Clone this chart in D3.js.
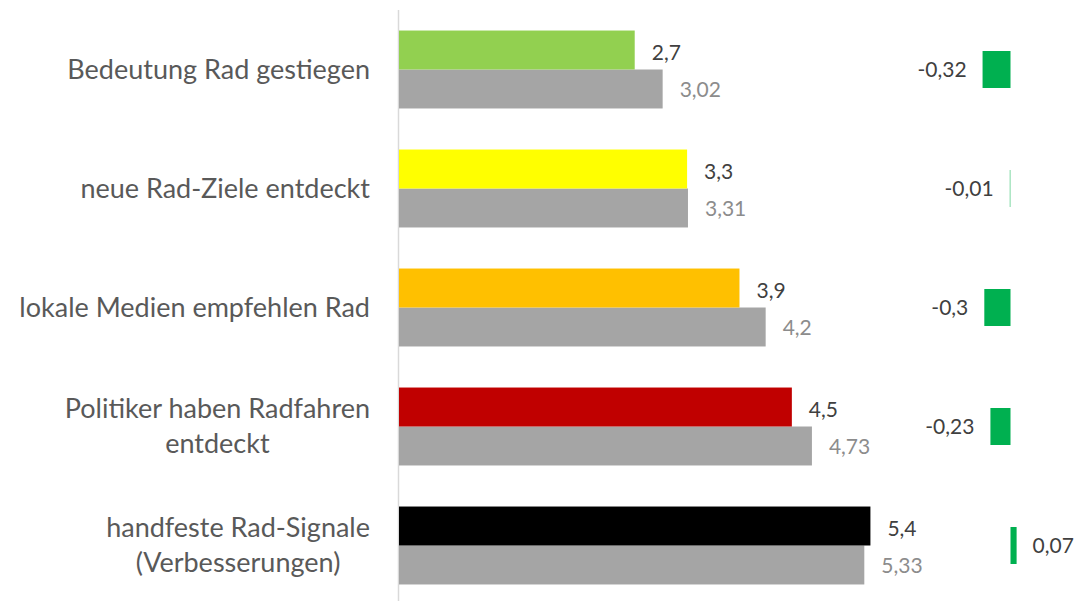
<!DOCTYPE html>
<html>
<head>
<meta charset="utf-8">
<script src="https://cdn.jsdelivr.net/npm/d3@7"></script>
<style>
  body { margin: 0; background: #fff; }
  text { font-family: Lato, "Open Sans", sans-serif; }
</style>
</head>
<body>
<div id="chart"></div>
<script>
// chart values
const categories = ["Bedeutung Rad gestiegen", "neue Rad-Ziele entdeckt", "lokale Medien empfehlen Rad",
	"Politiker haben Radfahren\nentdeckt", "handfeste Rad-Signale\n(Verbesserungen)"];
const current = [2.7, 3.3, 3.9, 4.5, 5.4];
const previous = [3.02, 3.31, 4.2, 4.73, 5.33];
const diffs = [-0.32, -0.01, -0.3, -0.23, 0.07];
const barColors = ["#92D050", "#FFFF00", "#FFC000", "#C00000", "#000000"];

const width = 1083, height = 601;
const fmt = v => String(v).replace(".", ",");

let svg = d3.select("#chart").append("svg")
	.attr("width", width)
	.attr("height", height);

let y = d3.scaleBand().domain(categories).range([10, 605]).paddingInner(0.345).paddingOuter(0.1725);
let ySub = d3.scaleBand().domain(["cur", "prev"]).range([0, y.bandwidth()]);
let x = d3.scaleLinear().domain([0, 6]).range([399, 399 + 6 * 87.3]);
let xd = d3.scaleLinear().domain([0, 1]).range([1010.5, 1010.5 + 87.3]);

// axis line
svg.append("line")
	.attr("x1", x(0) - 0.5).attr("x2", x(0) - 0.5)
	.attr("y1", 10).attr("y2", height)
	.attr("stroke", "#D9D9D9").attr("stroke-width", 1.5);

// bars of previous year (grey)
svg.selectAll("rect.prev").data(previous).enter().append("rect")
	.attr("class", "prev")
	.attr("x", x(0))
	.attr("y", (d, i) => y(categories[i]) + ySub("prev"))
	.attr("width", d => x(d) - x(0))
	.attr("height", ySub.bandwidth())
	.attr("fill", "#A5A5A5");

// bars of current year (coloured)
svg.selectAll("rect.cur").data(current).enter().append("rect")
	.attr("class", "cur")
	.attr("x", x(0))
	.attr("y", (d, i) => y(categories[i]) + ySub("cur"))
	.attr("width", d => x(d) - x(0))
	.attr("height", ySub.bandwidth())
	.attr("fill", (d, i) => barColors[i]);

// value labels
svg.selectAll("text.curLabel").data(current).enter().append("text")
	.attr("x", d => x(d) + 17)
	.attr("y", (d, i) => y(categories[i]) + ySub("cur") + ySub.bandwidth() / 2 + 3)
	.attr("dy", "0.35em")
	.style("font-size", "21px")
	.style("fill", "#404040")
	.text(d => fmt(d));

svg.selectAll("text.prevLabel").data(previous).enter().append("text")
	.attr("x", d => x(d) + 17)
	.attr("y", (d, i) => y(categories[i]) + ySub("prev") + ySub.bandwidth() / 2 + 1)
	.attr("dy", "0.35em")
	.style("font-size", "21px")
	.style("fill", "#8C8C8C")
	.text(d => fmt(d));

// difference bars
svg.selectAll("rect.diff").data(diffs).enter().append("rect")
	.attr("x", d => xd(Math.min(0, d)))
	.attr("y", (d, i) => y(categories[i]) + y.bandwidth() / 2 - 18.5)
	.attr("width", d => Math.max(1, Math.abs(xd(d) - xd(0))))
	.attr("height", 37)
	.attr("fill", d => Math.abs(d) < 0.05 && d < 0 ? "#7FD8A4" : "#00B050");

svg.selectAll("text.diffLabel").data(diffs).enter().append("text")
	.attr("x", d => d < 0 ? xd(d) - 16 : xd(d) + 16)
	.attr("y", (d, i) => y(categories[i]) + y.bandwidth() / 2)
	.attr("dy", "0.35em")
	.style("text-anchor", d => d < 0 ? "end" : "start")
	.style("font-size", "21px")
	.style("fill", "#404040")
	.text(d => fmt(d));

// category labels, lines centred on each other, block right aligned
let labelRight = 370;
categories.forEach(function(c, i) {
	let lines = c.split("\n");
	let t = svg.append("text")
		.style("font-size", "27px")
		.style("fill", "#595959");
	let cy = y(c) + y.bandwidth() / 2;
	let tspans = lines.map(function(l, j) {
		return t.append("tspan")
			.attr("y", cy + (j - (lines.length - 1) / 2) * 35)
			.attr("dy", "0.35em")
			.text(l);
	});
	let maxW = d3.max(tspans, s => s.node().getComputedTextLength());
	tspans.forEach(s => s.attr("x", labelRight - maxW / 2).style("text-anchor", "middle"));
});
</script>
</body>
</html>
